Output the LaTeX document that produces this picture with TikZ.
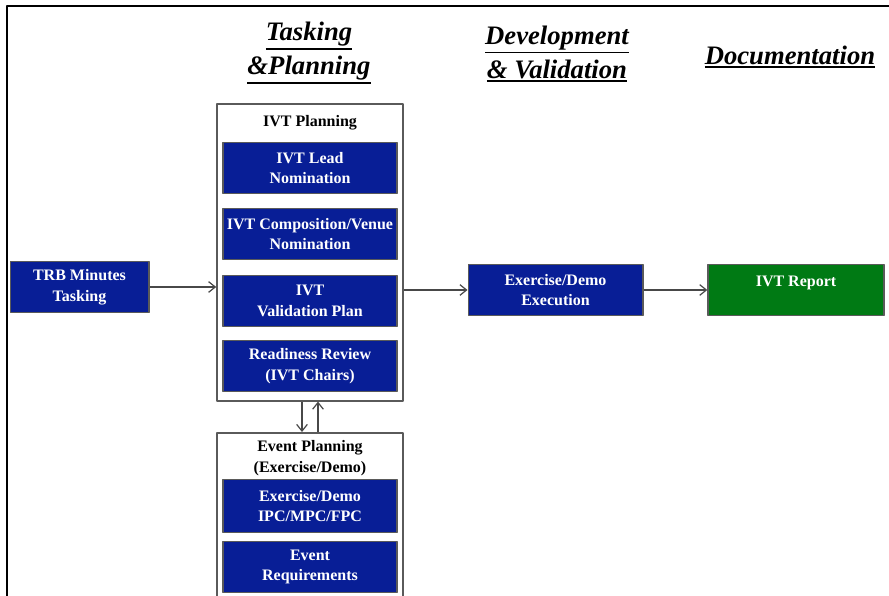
\documentclass[tikz,border=0pt]{standalone}
\usepackage{fontspec}
\setmainfont{Liberation Serif}
\usetikzlibrary{positioning, arrows.meta}

% thick underline for the column headings
\newcommand{\hdline}[1]{\leavevmode\vtop{\hbox{#1}\kern1.2pt\hrule height 1.4pt}}
\definecolor{boxblue}{RGB}{8,30,150}
\definecolor{boxgreen}{RGB}{0,122,20}
\definecolor{rimgray}{RGB}{90,90,90}

\tikzset{
  stepbox/.style={draw=rimgray, line width=1pt, fill=boxblue, text=white,
    font=\fontsize{12}{15.5}\selectfont\bfseries, align=center,
    minimum width=130.5pt, minimum height=38pt, inner sep=1pt},
  groupbox/.style={draw=rimgray, line width=1.2pt, fill=white,
    minimum width=139.5pt, anchor=north},
  grouptitle/.style={font=\fontsize{12}{15.5}\selectfont\bfseries, align=center},
  heading/.style={font=\fontsize{20}{25.5}\selectfont\bfseries\itshape, align=center},
  flow/.style={-{Straight Barb[length=5pt,width=8pt]}, line width=0.9pt, draw=rimgray!80!black}
}

\begin{document}
\begin{tikzpicture}[x=0.75pt, y=-0.75pt, line join=round]

  % picture frame
  \useasboundingbox (0,0) rectangle (889,596);
  \clip (0,0) rectangle (889,596);
  \draw[line width=1.5pt] (7,596) -- (7,6) -- (889,6);

  % column headings
  \node[heading] (hdtask) at (309,53) {\hdline{Tasking}\\\hdline{\&Planning}};
  \node[heading] (hddev) at (557,54) {\hdline{Development}\\\hdline{\& Validation}};
  \node[heading] (hddoc) at (790,57) {\hdline{Documentation}};

  % group boxes
  \node[groupbox, minimum height=222.75pt] (ivtplan) at (310,103) {};
  \node[grouptitle, below=6pt of ivtplan.north] (ivttitle) {IVT Planning};
  \node[groupbox, minimum height=135pt] (evtplan) at (310,432) {};
  \node[grouptitle, below=3pt of evtplan.north] (evttitle) {Event Planning\\(Exercise/Demo)};

  % steps inside IVT Planning
  \node[stepbox] (lead) at (310,168) {IVT Lead\\Nomination};
  \node[stepbox] (venue) at (310,234) {IVT Composition/Venue\\Nomination};
  \node[stepbox] (valplan) at (310,301) {IVT\\Validation Plan};
  \node[stepbox] (ready) at (310,366) {Readiness Review\\(IVT Chairs)};

  % steps inside Event Planning
  \node[stepbox, minimum height=40pt] (ipc) at (310,506) {Exercise/Demo\\IPC/MPC/FPC};
  \node[stepbox] (evtreq) at (310,567) {Event\\Requirements};

  % flow boxes
  \node[stepbox, minimum width=104pt] (trb) at (79.5,287) {TRB Minutes\\Tasking};
  \node[stepbox, minimum width=131pt] (exec) at (555.5,290) {Exercise/Demo\\Execution};
  \node[stepbox, fill=boxgreen, minimum width=132pt, text height=15pt, text depth=21pt]
    (report) at (796,290) {IVT Report};

  % connectors
  \draw[flow] (trb.east) -- (trb -| ivtplan.west);
  \draw[flow] (ivtplan.east |- exec) -- (exec.west);
  \draw[flow] (exec.east) -- (report.west);
  \draw[flow] ([xshift=-6pt]ivtplan.south) -- ([xshift=-6pt]evtplan.north);
  \draw[flow] ([xshift=6pt]evtplan.north) -- ([xshift=6pt]ivtplan.south);

\end{tikzpicture}
\end{document}
